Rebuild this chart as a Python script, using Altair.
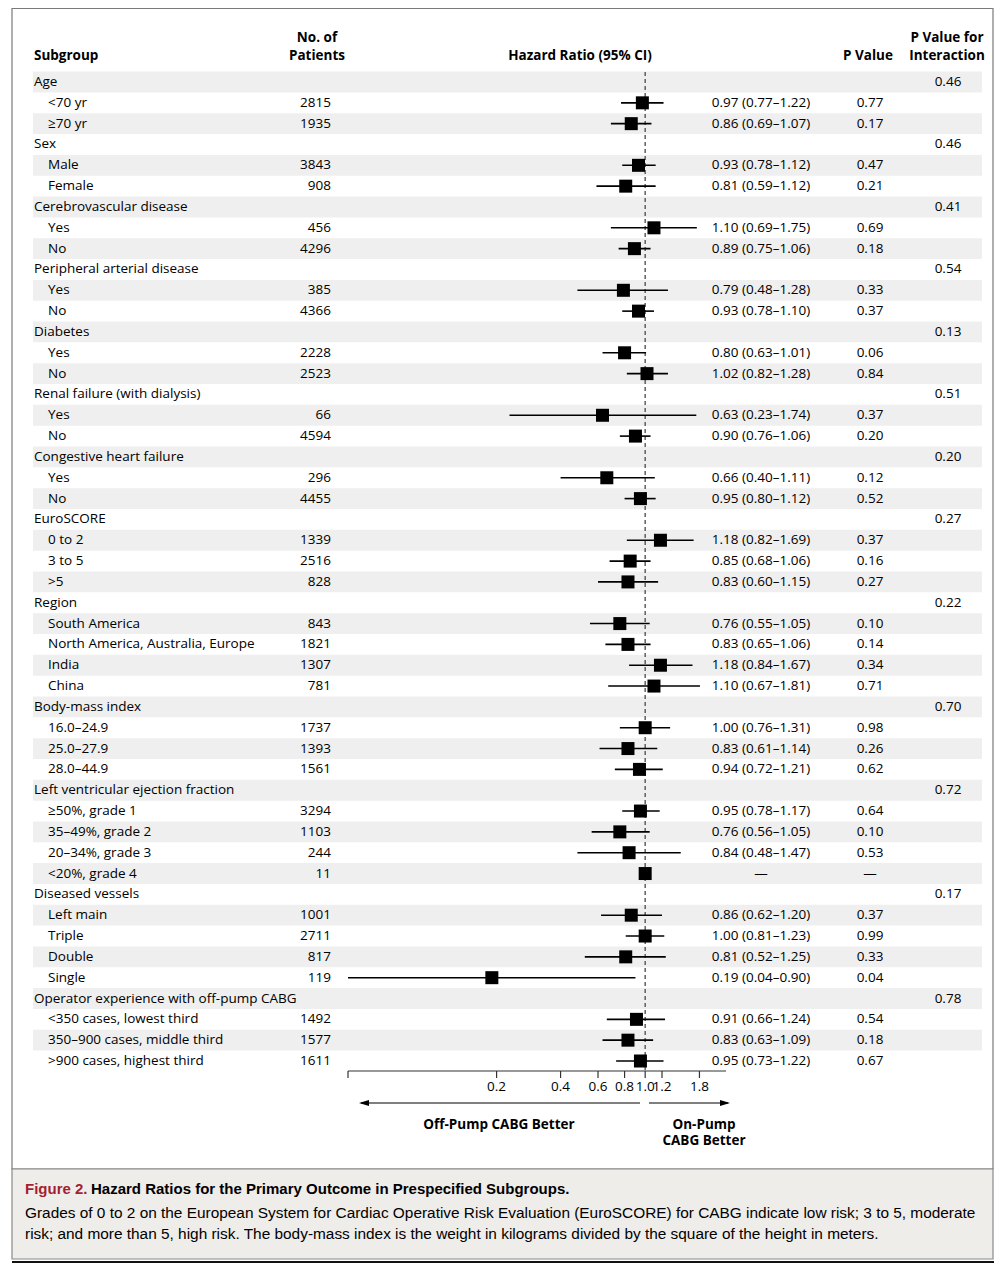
import altair as alt
import pandas as pd

# ---------------- data ----------------
labels = ["Age", "<70 yr", "≥70 yr",
          "Sex", "Male", "Female",
          "Cerebrovascular disease", "Yes", "No",
          "Peripheral arterial disease", "Yes", "No",
          "Diabetes", "Yes", "No",
          "Renal failure (with dialysis)", "Yes", "No",
          "Congestive heart failure", "Yes", "No",
          "EuroSCORE", "0 to 2", "3 to 5", ">5",
          "Region", "South America", "North America, Australia, Europe", "India", "China",
          "Body-mass index", "16.0–24.9", "25.0–27.9", "28.0–44.9",
          "Left ventricular ejection fraction", "≥50%, grade 1", "35–49%, grade 2", "20–34%, grade 3", "<20%, grade 4",
          "Diseased vessels", "Left main", "Triple", "Double", "Single",
          "Operator experience with off-pump CABG", "<350 cases, lowest third", "350–900 cases, middle third", ">900 cases, highest third"]
level = [0, 1, 1,
         0, 1, 1,
         0, 1, 1,
         0, 1, 1,
         0, 1, 1,
         0, 1, 1,
         0, 1, 1,
         0, 1, 1, 1,
         0, 1, 1, 1, 1,
         0, 1, 1, 1,
         0, 1, 1, 1, 1,
         0, 1, 1, 1, 1,
         0, 1, 1, 1]
patients = ["", "2815", "1935",
            "", "3843", "908",
            "", "456", "4296",
            "", "385", "4366",
            "", "2228", "2523",
            "", "66", "4594",
            "", "296", "4455",
            "", "1339", "2516", "828",
            "", "843", "1821", "1307", "781",
            "", "1737", "1393", "1561",
            "", "3294", "1103", "244", "11",
            "", "1001", "2711", "817", "119",
            "", "1492", "1577", "1611"]
N = None
hr = [N, 0.97, 0.86,
      N, 0.93, 0.81,
      N, 1.10, 0.89,
      N, 0.79, 0.93,
      N, 0.80, 1.02,
      N, 0.63, 0.90,
      N, 0.66, 0.95,
      N, 1.18, 0.85, 0.83,
      N, 0.76, 0.83, 1.18, 1.10,
      N, 1.00, 0.83, 0.94,
      N, 0.95, 0.76, 0.84, 1.00,
      N, 0.86, 1.00, 0.81, 0.19,
      N, 0.91, 0.83, 0.95]
ci_low = [N, 0.77, 0.69,
          N, 0.78, 0.59,
          N, 0.69, 0.75,
          N, 0.48, 0.78,
          N, 0.63, 0.82,
          N, 0.23, 0.76,
          N, 0.40, 0.80,
          N, 0.82, 0.68, 0.60,
          N, 0.55, 0.65, 0.84, 0.67,
          N, 0.76, 0.61, 0.72,
          N, 0.78, 0.56, 0.48, N,
          N, 0.62, 0.81, 0.52, 0.04,
          N, 0.66, 0.63, 0.73]
ci_high = [N, 1.22, 1.07,
           N, 1.12, 1.12,
           N, 1.75, 1.06,
           N, 1.28, 1.10,
           N, 1.01, 1.28,
           N, 1.74, 1.06,
           N, 1.11, 1.12,
           N, 1.69, 1.06, 1.15,
           N, 1.05, 1.06, 1.67, 1.81,
           N, 1.31, 1.14, 1.21,
           N, 1.17, 1.05, 1.47, N,
           N, 1.20, 1.23, 1.25, 0.90,
           N, 1.24, 1.09, 1.22]
p_value = ["", "0.77", "0.17",
           "", "0.47", "0.21",
           "", "0.69", "0.18",
           "", "0.33", "0.37",
           "", "0.06", "0.84",
           "", "0.37", "0.20",
           "", "0.12", "0.52",
           "", "0.37", "0.16", "0.27",
           "", "0.10", "0.14", "0.34", "0.71",
           "", "0.98", "0.26", "0.62",
           "", "0.64", "0.10", "0.53", "—",
           "", "0.37", "0.99", "0.33", "0.04",
           "", "0.54", "0.18", "0.67"]
p_interaction = ["0.46", "", "",
                 "0.46", "", "",
                 "0.41", "", "",
                 "0.54", "", "",
                 "0.13", "", "",
                 "0.51", "", "",
                 "0.20", "", "",
                 "0.27", "", "", "",
                 "0.22", "", "", "", "",
                 "0.70", "", "", "",
                 "0.72", "", "", "", "",
                 "0.17", "", "", "", "",
                 "0.78", "", "", ""]

tick_values = [0.04, 0.2, 0.4, 0.6, 0.8, 1.0, 1.2, 1.8]
tick_labels = ["", "0.2", "0.4", "0.6", "0.8", "1.0", "1.2", "1.8"]
x_domain = [0.04, 2.4]
reference_hr = 1.0


def ci_text(h, lo, hi):
    if h is None:
        return ""
    if lo is None:
        return "—"
    return f"{h:.2f} ({lo:.2f}–{hi:.2f})"


df = pd.DataFrame({
    "row": list(range(1, len(labels) + 1)),
    "label": labels,
    "level": level,
    "patients": patients,
    "hr": hr,
    "lo": ci_low,
    "hi": ci_high,
    "p": p_value,
    "pint": p_interaction,
})
df["hrtext"] = [ci_text(h, l, u) for h, l, u in zip(hr, ci_low, ci_high)]
df["y0"] = df["row"] - 0.5
df["y1"] = df["row"] + 0.5

ticks = pd.DataFrame({"v": tick_values, "lab": tick_labels})
axis_df = pd.DataFrame({"a": [x_domain[0]], "b": [x_domain[1]], "ref": [reference_hr]})
one = pd.DataFrame({"k": [0]})

# ---------------- style ----------------
FONT = "Open Sans"
CAPFONT = "Liberation Sans"
FS = 13.5

xs = alt.Scale(type="log", domain=x_domain, range=[340, 718], nice=False, zero=False)
ys = alt.Scale(domain=[1, 48], range=[74, 1053], nice=False, zero=False)
Y = alt.Y("row:Q", scale=ys, axis=None)

base = alt.Chart(df)


def txt(t, x, y, align="center", bold=False, color="black", size=FS, font=FONT):
    return alt.Chart(one).mark_text(
        text=t, align=align, baseline="middle", font=font, fontSize=size,
        fontWeight="bold" if bold else "normal", color=color
    ).encode(x=alt.value(x), y=alt.value(y))


layers = []

# outer frame and caption box
layers.append(alt.Chart(one).mark_rect(fill="white", stroke="#7a7a7a", strokeWidth=1.2).encode(
    x=alt.value(4), x2=alt.value(985), y=alt.value(0.5), y2=alt.value(1161)))
layers.append(alt.Chart(one).mark_rect(fill="#efede9", stroke="#8a8a8a", strokeWidth=1.2).encode(
    x=alt.value(4), x2=alt.value(985), y=alt.value(1161), y2=alt.value(1251)))
layers.append(alt.Chart(one).mark_rule(color="#111111", strokeWidth=2).encode(
    x=alt.value(4), x2=alt.value(986), y=alt.value(1254)))

# alternating bands
layers.append(base.transform_filter("datum.row % 2 == 1").mark_rect(color="#efefef").encode(
    x=alt.value(25), x2=alt.value(974),
    y=alt.Y("y0:Q", scale=ys, axis=None), y2="y1:Q"))

# reference dashed line
layers.append(alt.Chart(axis_df).mark_rule(color="#555555", strokeWidth=1.4, strokeDash=[4, 3]).encode(
    x=alt.X("ref:Q", scale=xs, axis=None), y=alt.value(64), y2=alt.value(1063)))

# confidence intervals and squares
layers.append(base.transform_filter("isValid(datum.lo)").mark_rule(color="black", strokeWidth=1.6).encode(
    x=alt.X("lo:Q", scale=xs, axis=None), x2="hi:Q", y=Y))
layers.append(base.transform_filter("isValid(datum.hr)").mark_square(
    color="black", size=169, opacity=1, filled=True).encode(
    x=alt.X("hr:Q", scale=xs, axis=None), y=Y))

# text columns
layers.append(base.transform_filter("datum.level == 0").mark_text(
    align="left", baseline="middle", font=FONT, fontSize=FS, color="black").encode(
    x=alt.value(26), y=Y, text="label:N"))
layers.append(base.transform_filter("datum.level == 1").mark_text(
    align="left", baseline="middle", font=FONT, fontSize=FS, color="black").encode(
    x=alt.value(40), y=Y, text="label:N"))
layers.append(base.mark_text(align="right", baseline="middle", font=FONT, fontSize=FS, color="black").encode(
    x=alt.value(323), y=Y, text="patients:N"))
layers.append(base.mark_text(align="center", baseline="middle", font=FONT, fontSize=FS, color="black").encode(
    x=alt.value(753), y=Y, text="hrtext:N"))
layers.append(base.mark_text(align="center", baseline="middle", font=FONT, fontSize=FS, color="black").encode(
    x=alt.value(862), y=Y, text="p:N"))
layers.append(base.mark_text(align="center", baseline="middle", font=FONT, fontSize=FS, color="black").encode(
    x=alt.value(940), y=Y, text="pint:N"))

# headers
layers += [
    txt("Subgroup", 26, 48, align="left", bold=True),
    txt("No. of", 309, 30, bold=True),
    txt("Patients", 309, 47.5, bold=True),
    txt("Hazard Ratio (95% CI)", 572, 48, bold=True),
    txt("P Value", 860, 48, bold=True),
    txt("P Value for", 939, 30, bold=True),
    txt("Interaction", 939, 47.5, bold=True),
]

# custom axis
layers.append(alt.Chart(axis_df).mark_rule(color="#333333", strokeWidth=1.2).encode(
    x=alt.X("a:Q", scale=xs, axis=None), x2="b:Q", y=alt.value(1063)))
layers.append(alt.Chart(ticks).mark_rule(color="#333333", strokeWidth=1.2).encode(
    x=alt.X("v:Q", scale=xs, axis=None), y=alt.value(1063), y2=alt.value(1070)))
layers.append(alt.Chart(ticks).mark_text(font=FONT, fontSize=FS, baseline="middle", align="center", color="black").encode(
    x=alt.X("v:Q", scale=xs, axis=None), y=alt.value(1079), text="lab:N"))

# direction arrows
layers.append(alt.Chart(one).mark_rule(color="black", strokeWidth=1.2).encode(
    x=alt.value(353), x2=alt.value(632), y=alt.value(1095)))
layers.append(alt.Chart(one).mark_rule(color="black", strokeWidth=1.2).encode(
    x=alt.value(641), x2=alt.value(720), y=alt.value(1095)))
arrow_left = "M -1 0 L 1 -0.6 L 1 0.6 Z"
arrow_right = "M 1 0 L -1 -0.6 L -1 0.6 Z"
layers.append(alt.Chart(one).mark_point(shape=arrow_left, size=100, filled=True, color="black", opacity=1).encode(
    x=alt.value(356), y=alt.value(1095)))
layers.append(alt.Chart(one).mark_point(shape=arrow_right, size=100, filled=True, color="black", opacity=1).encode(
    x=alt.value(717), y=alt.value(1095)))
layers += [
    txt("Off-Pump CABG Better", 491, 1117, bold=True),
    txt("On-Pump", 696, 1117, bold=True),
    txt("CABG Better", 696, 1133, bold=True),
]

# caption
layers += [
    txt("Figure 2.", 17, 1181, align="left", bold=True, color="#a31f32", size=15, font=CAPFONT),
    txt("Hazard Ratios for the Primary Outcome in Prespecified Subgroups.", 83, 1181, align="left",
        bold=True, size=15, font=CAPFONT),
    txt("Grades of 0 to 2 on the European System for Cardiac Operative Risk Evaluation (EuroSCORE) for CABG indicate low risk; 3 to 5, moderate",
        17, 1205, align="left", size=15.4, font=CAPFONT),
    txt("risk; and more than 5, high risk. The body-mass index is the weight in kilograms divided by the square of the height in meters.",
        17, 1226, align="left", size=15.4, font=CAPFONT),
]

chart = alt.layer(*layers).properties(
    width=986, height=1255, padding=0, autosize=alt.AutoSizeParams(type="none")
).configure_view(stroke=None)

chart.save("out.html", embed_options={"renderer": "svg", "actions": False})
